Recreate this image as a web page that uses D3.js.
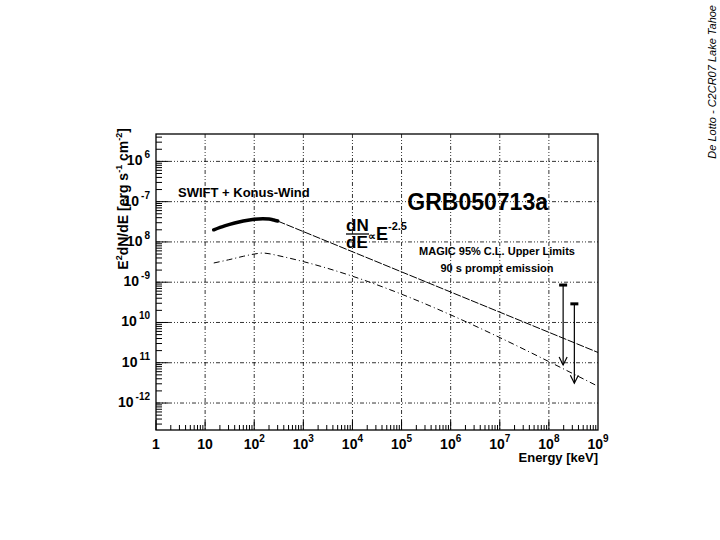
<!DOCTYPE html>
<html><head><meta charset="utf-8">
<script src="https://cdn.jsdelivr.net/npm/d3@7"></script>
<style>body{margin:0;background:#fff}text{font-family:"Liberation Sans",Arial,sans-serif}</style>
</head><body><div id="chart"></div>
<script>
// measured spectrum (SWIFT + Konus-Wind), keV vs erg s^-1 cm^-2
const swiftE = [15, 25, 40, 60, 100, 150, 200, 250, 300];
const swiftF = [2.0e-8, 2.5e-8, 2.95e-8, 3.3e-8, 3.65e-8, 3.75e-8, 3.7e-8, 3.5e-8, 3.3e-8];
// extrapolation dN/dE ~ E^-2.5
const extrapE = [300, 1e9];
const extrapF = [3.3e-8, 1.8e-11];
// lower curve (dash-dot)
const lowE = [15, 30, 60, 100, 150, 200, 300, 1e9];
const lowF = [3.0e-9, 3.6e-9, 4.4e-9, 5.0e-9, 5.3e-9, 5.1e-9, 4.6e-9, 2.6e-12];
// MAGIC upper limits
const ulE = [1.95e8, 3.3e8];
const ulTop = [8.5e-10, 2.9e-10];
const ulBot = [8.8e-12, 3.1e-12];

const xTicks = [0, 1, 2, 3, 4, 5, 6, 7, 8, 9];
const yTicks = [-6, -7, -8, -9, -10, -11, -12];
const yTickLabels = ["6", "-7", "8", "-9", "10", "11", "-12"];

const W = 720, H = 540;
const svg = d3.select("#chart").append("svg").attr("width", W).attr("height", H);

const x = d3.scaleLog().domain([1, 1e9]).range([156, 598]);
const y = d3.scaleLog().domain([Math.pow(10, -12.67), Math.pow(10, -5.32)]).range([430, 134]);

// grid
const grid = svg.append("g").attr("stroke", "#000").attr("stroke-width", 0.8).attr("stroke-dasharray", "4,2,1,2,1,2");
xTicks.slice(1, -1).forEach(p => grid.append("line")
  .attr("x1", x(Math.pow(10, p))).attr("x2", x(Math.pow(10, p))).attr("y1", 134).attr("y2", 430));
yTicks.forEach(p => grid.append("line")
  .attr("x1", 156).attr("x2", 598).attr("y1", y(Math.pow(10, p))).attr("y2", y(Math.pow(10, p))));

// frame
svg.append("rect").attr("x", 156).attr("y", 134).attr("width", 442).attr("height", 296)
  .attr("fill", "none").attr("stroke", "#000").attr("stroke-width", 1.3);

// x ticks
const tk = svg.append("g").attr("stroke", "#000").attr("stroke-width", 1);
for (let p = 0; p < 9; p++) {
  for (let m = 1; m < 10; m++) {
    const v = m * Math.pow(10, p);
    tk.append("line").attr("x1", x(v)).attr("x2", x(v)).attr("y1", 430).attr("y2", m === 1 ? 420 : 425);
  }
}
// y ticks
for (let p = -13; p < -5; p++) {
  for (let m = 1; m < 10; m++) {
    const v = m * Math.pow(10, p);
    if (v < y.domain()[0] || v > y.domain()[1]) continue;
    tk.append("line").attr("x1", 156).attr("x2", m === 1 ? 168 : 162).attr("y1", y(v)).attr("y2", y(v));
  }
}

// x labels
xTicks.forEach(p => {
  const t = svg.append("text").attr("x", x(Math.pow(10, p))).attr("y", 449)
    .attr("text-anchor", "middle").attr("font-size", 14).attr("font-weight", "bold");
  if (p === 0) { t.text("1"); return; }
  if (p === 1) { t.text("10"); return; }
  t.append("tspan").text("10");
  t.append("tspan").attr("dy", -7).attr("font-size", 10).text(p);
});
// y labels
yTicks.forEach((p, i) => {
  const t = svg.append("text").attr("x", 150).attr("y", y(Math.pow(10, p)) + 4)
    .attr("text-anchor", "end").attr("font-size", 14).attr("font-weight", "bold");
  t.append("tspan").text("10");
  t.append("tspan").attr("dx", 2).attr("dy", -7).attr("font-size", 10).text(yTickLabels[i]);
});

// axis titles
svg.append("text").attr("x", 598).attr("y", 462).attr("text-anchor", "end")
  .attr("font-size", 13).attr("font-weight", "bold").text("Energy [keV]");
const yt = svg.append("text").attr("transform", "translate(128,128) rotate(-90)")
  .attr("text-anchor", "end").attr("font-size", 14).attr("font-weight", "bold");
yt.append("tspan").text("E");
yt.append("tspan").attr("dy", -6).attr("font-size", 9).text("2");
yt.append("tspan").attr("dy", 6).text("dN/dE [erg s");
yt.append("tspan").attr("dy", -6).attr("font-size", 9).text("-1");
yt.append("tspan").attr("dy", 6).text(" cm");
yt.append("tspan").attr("dy", -6).attr("font-size", 9).text("-2");
yt.append("tspan").attr("dy", 6).text("]");

// curves
const line = d3.line().x(d => x(d[0])).y(d => y(d[1])).curve(d3.curveMonotoneX);
svg.append("path").datum(d3.zip(swiftE, swiftF)).attr("d", line)
  .attr("fill", "none").attr("stroke", "#000").attr("stroke-width", 3.5).attr("stroke-linecap", "round");
svg.append("path").datum(d3.zip(extrapE, extrapF)).attr("d", d3.line().x(d => x(d[0])).y(d => y(d[1])))
  .attr("fill", "none").attr("stroke", "#000").attr("stroke-width", 1).attr("stroke-dasharray", "8,1.5");
svg.append("path").datum(d3.zip(lowE, lowF)).attr("d", line)
  .attr("fill", "none").attr("stroke", "#000").attr("stroke-width", 1).attr("stroke-dasharray", "6,3,1,3");

// upper limits
ulE.forEach((e, i) => {
  const cx = x(e), t = y(ulTop[i]), b = y(ulBot[i]);
  svg.append("line").attr("x1", cx - 4).attr("x2", cx + 4).attr("y1", t).attr("y2", t)
    .attr("stroke", "#000").attr("stroke-width", 3);
  svg.append("line").attr("x1", cx).attr("x2", cx).attr("y1", t).attr("y2", b)
    .attr("stroke", "#000").attr("stroke-width", 1.2);
  svg.append("path").attr("d", `M${cx - 4},${b - 8}L${cx},${b}L${cx + 4},${b - 8}`)
    .attr("fill", "none").attr("stroke", "#000").attr("stroke-width", 1.2);
});

// annotations
svg.append("text").attr("x", 548).attr("y", 210).attr("text-anchor", "end")
  .attr("font-size", 23).attr("font-weight", "bold").text("GRB050713a");
svg.append("text").attr("x", 178).attr("y", 197).attr("font-size", 13).attr("font-weight", "bold")
  .text("SWIFT + Konus-Wind");
svg.append("text").attr("x", 346).attr("y", 231).attr("font-size", 17).attr("font-weight", "bold").text("dN");
svg.append("line").attr("x1", 346).attr("x2", 369).attr("y1", 234).attr("y2", 234).attr("stroke", "#000").attr("stroke-width", 1.3);
svg.append("text").attr("x", 346).attr("y", 248).attr("font-size", 17).attr("font-weight", "bold").text("dE");
const pw = svg.append("text").attr("x", 368).attr("y", 240).attr("font-size", 18).attr("font-weight", "bold");
pw.append("tspan").attr("font-size", 11).text("\u221d");
pw.append("tspan").text("E");
pw.append("tspan").attr("dy", -10).attr("font-size", 11).text("-2.5");
svg.append("text").attr("x", 497).attr("y", 255).attr("text-anchor", "middle")
  .attr("font-size", 11).attr("font-weight", "bold").text("MAGIC 95% C.L. Upper Limits");
svg.append("text").attr("x", 497).attr("y", 272).attr("text-anchor", "middle")
  .attr("font-size", 11).attr("font-weight", "bold").text("90 s prompt emission");

svg.append("text").attr("transform", "translate(716,5) rotate(-90)").attr("text-anchor", "end")
  .attr("font-size", 11).attr("font-style", "italic").text("De Lotto - C2CR07 Lake Tahoe");
</script></body></html>
